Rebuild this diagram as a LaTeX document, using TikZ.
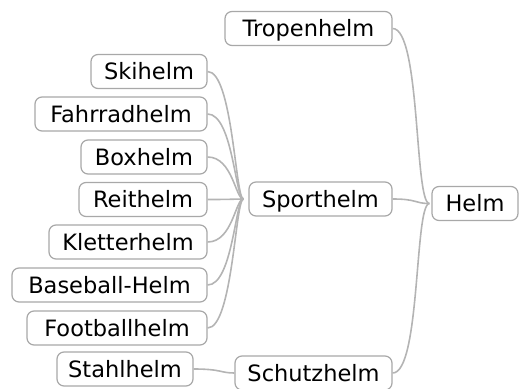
\documentclass[tikz,border=0pt]{standalone}
\usepackage{fontspec}
\setmainfont{DejaVu Sans}
\definecolor{boxgray}{HTML}{A8A8A8}
\definecolor{linkgray}{HTML}{B4B4B4}
\begin{document}
\begin{tikzpicture}[x=1pt,y=-1pt,
  topic/.style={draw=boxgray, line width=1.2pt, rounded corners=7pt, fill=white,
    minimum height=34pt, inner sep=0pt, text height=16pt, text depth=0pt,
    font=\fontsize{22.5}{26}\selectfont},
  link/.style={draw=linkgray, line width=1.6pt}]
\useasboundingbox (0,0) rectangle (521,388);

% topics
\node[topic, minimum width=167pt] (tropen) at (308.5,28.5) {Tropenhelm};
\node[topic, minimum width=116pt] (ski)    at (149,71.5)   {Skihelm};
\node[topic, minimum width=172pt] (rad)    at (121,114)    {Fahrradhelm};
\node[topic, minimum width=126pt] (box)    at (144,157)    {Boxhelm};
\node[topic, minimum width=128pt] (reit)   at (143,199.5)  {Reithelm};
\node[topic, minimum width=158pt] (klett)  at (128,242)    {Kletterhelm};
\node[topic, minimum width=195pt] (base)   at (109.5,285)  {Baseball-Helm};
\node[topic, minimum width=180pt] (foot)   at (117,328)    {Footballhelm};
\node[topic, minimum width=136pt] (stahl)  at (125,369)    {Stahlhelm};
\node[topic, minimum width=157pt] (schutz) at (313.5,373)  {Schutzhelm};
\node[topic, minimum width=143pt] (sport)  at (320.5,199)  {Sporthelm};
\node[topic, minimum width=86pt]  (helm)   at (475,203.5)  {Helm};

% junction points just left of the parent boxes
\coordinate (sportin) at ([xshift=-5pt]sport.west);
\coordinate (helmin)  at ([xshift=-2pt]helm.west);

% sport helmets
\foreach \n in {ski,rad,box,reit,klett,base,foot}
  \draw[link] (\n.east) .. controls +(25,0) and +(-8,0) .. (sportin);

% main branches
\draw[link] (tropen.east) .. controls +(28,0) and +(-15,0) .. (helmin);
\draw[link] (sport.east)  .. controls +(25,0) and +(-15,0) .. (helmin);
\draw[link] (schutz.east) .. controls +(28,0) and +(-15,0) .. (helmin);
\draw[link] (stahl.east)  .. controls +(28,0) and +(-14,0) .. (schutz.west);
\end{tikzpicture}
\end{document}
